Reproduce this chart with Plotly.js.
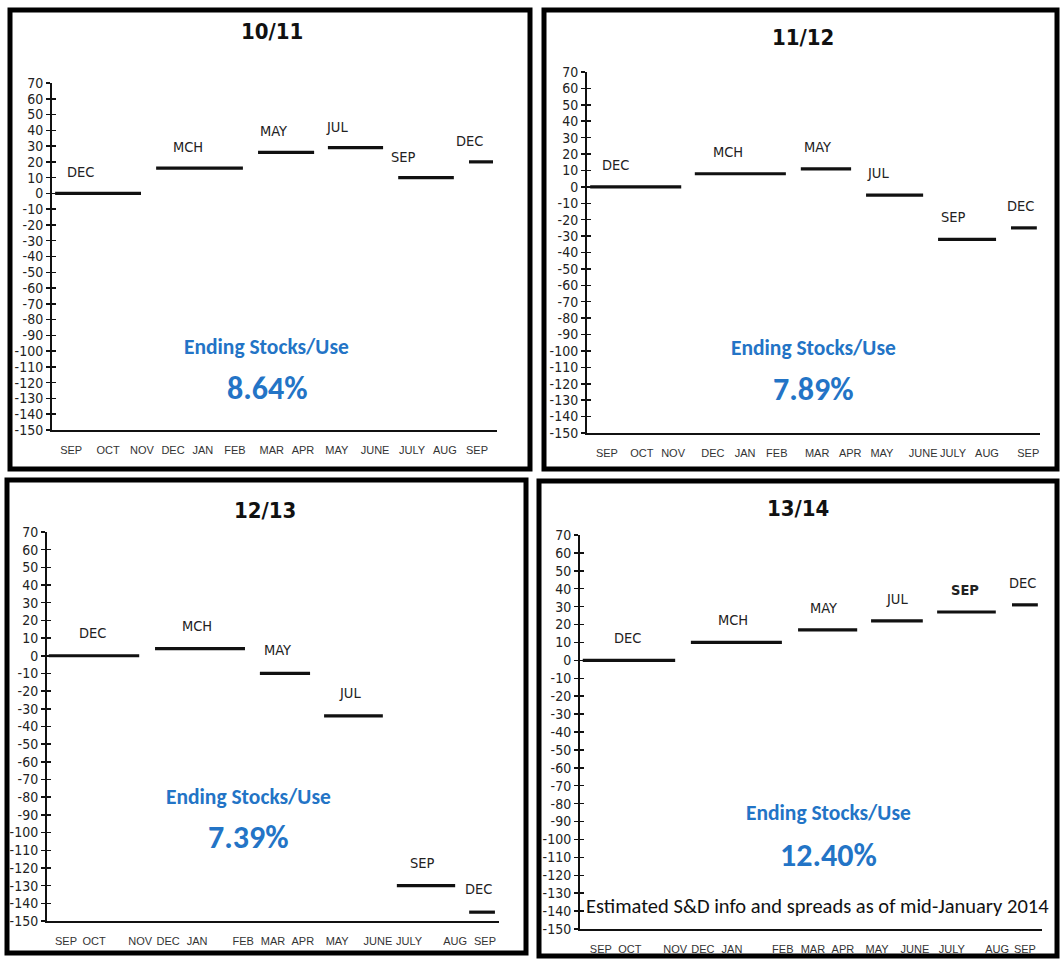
<!DOCTYPE html>
<html>
<head>
<meta charset="utf-8">
<script src="https://cdn.plot.ly/plotly-3.0.1.min.js"></script>
<style>html,body{margin:0;padding:0;background:#fff;}#chart{width:1060px;height:960px;}</style>
</head>
<body>
<div id="chart"></div>
<script>
// ---------- DATA ----------
const contracts = ["DEC", "MCH", "MAY", "JUL", "SEP", "DEC"];
const contracts1314 = ["DEC", "MCH", "MAY", "JUL", "<b>SEP</b>", "DEC"];
const months = ["SEP", "OCT", "NOV", "DEC", "JAN", "FEB", "MAR", "APR", "MAY", "JUNE", "JULY", "AUG", "SEP"];
const yTicks = [70, 60, 50, 40, 30, 20, 10, 0, -10, -20, -30, -40, -50, -60, -70, -80, -90, -100, -110, -120, -130, -140, -150];

// spread values per crop year
const values1011 = [0, 16, 26, 29, 10, 20];
const values1112 = [0, 8, 11, -5, -32, -25];
const values1213 = [0, 4, -10, -34, -130, -145];
const values1314 = [0, 10, 17, 22, 27, 31];

// contract periods along the month axis (axis units 0-100)
const start1011 = [0.7, 23.4, 46.3, 62.0, 77.8, 93.7];
const end1011   = [20.0, 42.9, 58.9, 74.4, 90.3, 99.1];
const start1112 = [0.7, 23.8, 47.2, 61.6, 77.5, 93.6];
const end1112   = [20.8, 43.9, 58.3, 74.2, 90.3, 99.3];
const start1213 = [0.4, 23.9, 47.1, 61.3, 77.4, 93.4];
const end1213   = [20.4, 43.8, 58.2, 74.3, 90.3, 99.1];
const start1314 = [0.6, 24.0, 47.2, 63.0, 77.3, 93.5];
const end1314   = [20.6, 43.7, 60.0, 74.2, 90.0, 99.1];

// month label positions
const months1011 = [4.3, 12.6, 20.2, 27.2, 33.9, 41.1, 49.4, 56.4, 64.0, 72.6, 80.9, 88.3, 95.5];
const months1112 = [4.4, 12.1, 19.0, 27.8, 34.9, 41.9, 50.8, 58.1, 65.1, 74.2, 80.8, 88.3, 97.4];
const months1213 = [4.2, 10.4, 20.6, 26.8, 33.2, 43.4, 50.0, 56.6, 64.2, 73.2, 80.1, 90.3, 96.9];
const months1314 = [4.5, 10.8, 20.6, 26.6, 32.9, 43.9, 50.4, 56.9, 64.3, 72.5, 80.5, 90.3, 96.3];

// contract label positions
const labelX1011 = [6.3, 30.6, 49.7, 64.0, 78.9, 93.9];
const labelX1112 = [6.4, 31.1, 50.8, 64.2, 80.8, 95.6];
const labelX1213 = [10.0, 33.2, 50.9, 67.0, 83.0, 95.4];
const labelX1314 = [10.2, 33.1, 52.6, 68.6, 83.3, 95.7];

const years = ["10/11", "11/12", "12/13", "13/14"];
const stocksUse = ["8.64%", "7.89%", "7.39%", "12.40%"];
const footnote = "Estimated S&D info and spreads as of mid-January 2014";

// ---------- LAYOUT HELPERS ----------
const W = 1060, H = 960;
const px = v => v / W;
const py = v => 1 - v / H;

const panels = [
  {vals: values1011, s: start1011, e: end1011, mx: months1011, lx: labelX1011, names: contracts,
   xd: [52, 497], yd: [83, 430], box: [10, 10, 530, 469], title: [272, 32], esu: [266, 347], pct: [267, 388], lshift: 21},
  {vals: values1112, s: start1112, e: end1112, mx: months1112, lx: labelX1112, names: contracts,
   xd: [587, 1040], yd: [72, 433], box: [544, 10, 1057, 469], title: [803, 37], esu: [813, 348], pct: [813, 389], lshift: 22},
  {vals: values1213, s: start1213, e: end1213, mx: months1213, lx: labelX1213, names: contracts,
   xd: [47, 499], yd: [532, 921], box: [7, 480, 526, 953], title: [265, 510], esu: [248, 797], pct: [248, 837], lshift: 23},
  {vals: values1314, s: start1314, e: end1314, mx: months1314, lx: labelX1314, names: contracts1314,
   xd: [580, 1042], yd: [535, 929], box: [539, 481, 1057, 956], title: [798, 508], esu: [828, 813], pct: [828, 855], lshift: 22}
];

const narrow = "'DejaVu Sans Condensed', 'Liberation Sans', Arial, sans-serif";
const arial = "'Liberation Sans', Arial, sans-serif";
const calibri = "Carlito, Lato, 'Open Sans', sans-serif";
const blue = "#2374c6";

const data = [];
const layout = {
  width: W, height: H,
  margin: {l: 0, r: 0, t: 0, b: 0},
  paper_bgcolor: "#ffffff",
  plot_bgcolor: "rgba(0,0,0,0)",
  showlegend: false,
  annotations: [],
  shapes: []
};

panels.forEach((p, i) => {
  const n = i + 1;
  const xs = n === 1 ? "" : String(n);
  const xName = "x" + xs, yName = "y" + xs;
  // segments
  const x = [], y = [];
  p.vals.forEach((v, j) => { x.push(p.s[j], p.e[j], null); y.push(v, v, null); });
  data.push({type: "scatter", mode: "lines", x: x, y: y, xaxis: xName, yaxis: yName,
             line: {color: "#111111", width: 3.2}, hoverinfo: "skip", connectgaps: false});

  layout["xaxis" + xs] = {
    domain: [px(p.xd[0]), px(p.xd[1])], range: [0, 100], anchor: yName,
    showgrid: false, zeroline: false, showline: true, linecolor: "#111111", linewidth: 2,
    tickmode: "array", tickvals: p.mx, ticktext: months,
    ticks: "outside", ticklen: 9, tickcolor: "rgba(0,0,0,0)",
    tickfont: {family: arial, size: 11, color: "#333333"},
    fixedrange: true
  };
  layout["yaxis" + xs] = {
    domain: [py(p.yd[1]), py(p.yd[0])], range: [-150, 70], anchor: xName,
    showgrid: false, zeroline: false, showline: true, linecolor: "#111111", linewidth: 2,
    tickmode: "array", tickvals: yTicks, ticktext: yTicks.map(String),
    ticks: "outside", ticklen: 4, tickwidth: 1.5, tickcolor: "#111111",
    tickfont: {family: narrow, size: 14, color: "#222222"},
    fixedrange: true
  };
  // inside half of the cross ticks
  const ov = "yaxis" + (n + 4);
  layout[ov] = {
    overlaying: yName, anchor: xName, side: "left", range: [-150, 70],
    showgrid: false, zeroline: false, showline: false, showticklabels: false,
    tickmode: "array", tickvals: yTicks,
    ticks: "inside", ticklen: 4, tickwidth: 1.5, tickcolor: "#111111", fixedrange: true
  };
  data.push({type: "scatter", mode: "markers", x: [null], y: [null], xaxis: xName, yaxis: "y" + (n + 4),
             hoverinfo: "skip", marker: {opacity: 0}});

  // contract labels
  p.vals.forEach((v, j) => {
    layout.annotations.push({xref: xName, yref: yName, x: p.lx[j], y: v, yshift: p.lshift,
      text: p.names[j], showarrow: false, xanchor: "center", yanchor: "middle",
      font: {family: narrow, size: 14.5, color: "#222222"}});
  });

  // title
  layout.annotations.push({xref: "paper", yref: "paper", x: px(p.title[0]), y: py(p.title[1]),
    text: "<b>" + years[i] + "</b>", showarrow: false, xanchor: "center", yanchor: "middle",
    font: {family: narrow, size: 22, color: "#111111"}});
  // ending stocks / use
  layout.annotations.push({xref: "paper", yref: "paper", x: px(p.esu[0]), y: py(p.esu[1]),
    text: "<b>Ending Stocks/Use</b>", showarrow: false, xanchor: "center", yanchor: "middle",
    font: {family: calibri, size: 21.5, color: blue}});
  layout.annotations.push({xref: "paper", yref: "paper", x: px(p.pct[0]), y: py(p.pct[1]),
    text: "<b>" + stocksUse[i] + "</b>", showarrow: false, xanchor: "center", yanchor: "middle",
    font: {family: calibri, size: 32, color: blue}});

  // panel frame
  layout.shapes.push({type: "rect", xref: "paper", yref: "paper", layer: "above",
    x0: px(p.box[0]), x1: px(p.box[2]), y0: py(p.box[3]), y1: py(p.box[1]),
    line: {color: "#000000", width: 5}, fillcolor: "rgba(0,0,0,0)"});
});

layout.annotations.push({xref: "paper", yref: "paper", x: px(817), y: py(906),
  text: footnote, showarrow: false, xanchor: "center", yanchor: "middle",
  font: {family: calibri, size: 20.5, color: "#111111"}});

Plotly.newPlot("chart", data, layout, {staticPlot: true, displayModeBar: false});
</script>
</body>
</html>
